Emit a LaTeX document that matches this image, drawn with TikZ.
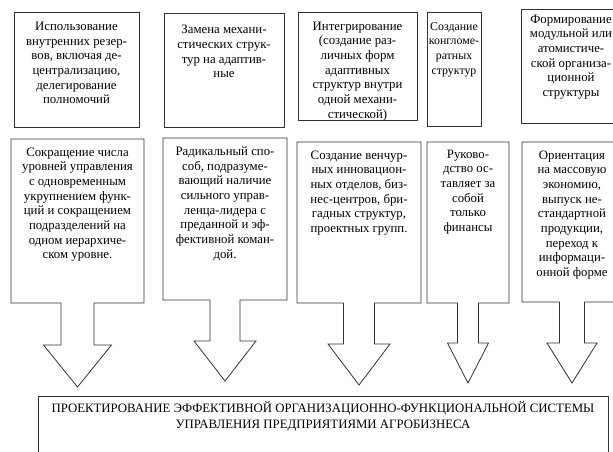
\documentclass[tikz,border=0pt]{standalone}
\usepackage{fontspec}
\setmainfont{Liberation Serif}
\usetikzlibrary{calc}
\tikzset{
  blk/.style={draw=black!80, line width=0.6pt},
  txt/.style={align=center, inner sep=0pt, anchor=north, font=\fontsize{9.6}{11}\selectfont},
}
\newcommand{\arrowbox}[8]{%
  \draw[blk] ({(#1+#2)/2-#5},#4) -- (#1,#4) -- (#1,#3) -- (#2,#3) -- (#2,#4)
    -- ({(#1+#2)/2+#5},#4) -- ({(#1+#2)/2+#5},#6) -- ({(#1+#2)/2+#7},#6)
    -- ({(#1+#2)/2},#8) -- ({(#1+#2)/2-#7},#6) -- ({(#1+#2)/2-#5},#6) -- cycle;}

\begin{document}
\begin{tikzpicture}[x=0.75pt,y=-0.75pt]
    \clip (0,0) rectangle (613,451);
    \fill[white] (0,0) rectangle (613,451);

    \draw[blk] (14,12) rectangle (139,127);
    \draw[blk] (164,13) rectangle (284,127);
    \draw[blk] (298,12) rectangle (417,120);
    \draw[blk] (427,12) rectangle (481,126);
    \draw[blk] (521,9) rectangle (623,123);
    \node[txt] (t1) at (76.5,22) {Использование\\внутренних резер-\\вов, включая де-\\централизацию,\\делегирование\\полномочий};
    \node[txt] (t2) at (224,25) {Замена механи-\\стических струк-\\тур на адаптив-\\ные};
    \node[txt] (t3) at (357.5,21.5) {Интегрирование\\(создание раз-\\личных форм\\адаптивных\\структур внутри\\одной механи-\\стической)};
    \node[txt, font=\fontsize{8.9}{11}\selectfont] (t4) at (454,22) {Создание\\конгломе-\\ратных\\структур};
    \node[txt] (t5) at (571,14.5) {Формирование\\модульной или\\атомистиче-\\ской организа-\\ционной\\структуры};

    \arrowbox{11}{144}{139}{303}{16.5}{345}{34}{387}
    \arrowbox{163}{287}{138}{300}{15}{341}{31}{381}
    \arrowbox{297}{421}{142}{303}{15.5}{344}{31}{385}
    \arrowbox{427}{509}{142}{303}{10.5}{343}{20.5}{383}
    \arrowbox{522}{622}{142}{302}{12.5}{343}{25}{383}
    \node[txt] (b1) at (77.5,147.5) {Сокращение числа\\уровней управления\\с одновременным\\укрупнением функ-\\ций и сокращением\\подразделений на\\одном иерархиче-\\ском уровне.};
    \node[txt] (b2) at (225,146.5) {Радикальный спо-\\соб, подразуме-\\вающий наличие\\сильного управ-\\ленца-лидера с\\преданной и эф-\\фективной коман-\\дой.};
    \node[txt] (b3) at (359,150.5) {Создание венчур-\\ных инновацион-\\ных отделов, биз-\\нес-центров, бри-\\гадных структур,\\проектных групп.};
    \node[txt] (b4) at (468,149.5) {Руково-\\дство ос-\\тавляет за\\собой\\только\\финансы};
    \node[txt] (b5) at (572,150.5) {Ориентация\\на массовую\\экономию,\\выпуск не-\\стандартной\\продукции,\\переход к\\информаци-\\онной форме};

    \draw[blk] (38,396) rectangle (608,470);
    \node[txt, font=\fontsize{9.6}{12.5}\selectfont] (res) at (323,401) {ПРОЕКТИРОВАНИЕ ЭФФЕКТИВНОЙ ОРГАНИЗАЦИОННО-ФУНКЦИОНАЛЬНОЙ СИСТЕМЫ\\УПРАВЛЕНИЯ ПРЕДПРИЯТИЯМИ АГРОБИЗНЕСА};
\end{tikzpicture}
\end{document}
